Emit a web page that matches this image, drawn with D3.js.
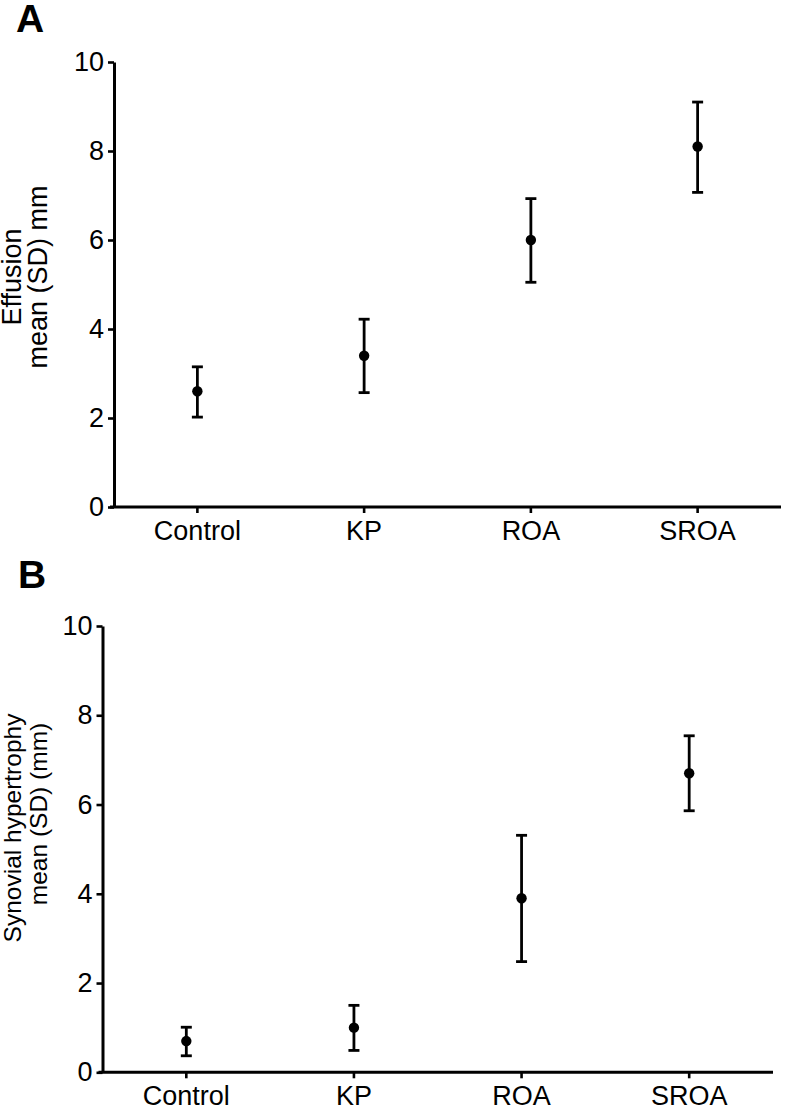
<!DOCTYPE html>
<html>
<head>
<meta charset="utf-8">
<script src="https://cdn.jsdelivr.net/npm/d3@7"></script>
<style>
  html, body { margin: 0; padding: 0; background: #fff; }
  svg { display: block; }
  text { font-family: "Liberation Sans", Arial, sans-serif; fill: #000; }
</style>
</head>
<body>
<svg id="chart" width="786" height="1109"></svg>
<script>
// ---- Data ----
const categories = ["Control", "KP", "ROA", "SROA"];
const yTicks = [0, 2, 4, 6, 8, 10];

const effusionMean = [2.6, 3.4, 6.0, 8.1];
const effusionLow  = [2.02, 2.57, 5.05, 7.07];
const effusionHigh = [3.15, 4.22, 6.93, 9.1];

const synovialMean = [0.7, 1.0, 3.9, 6.7];
const synovialLow  = [0.37, 0.49, 2.48, 5.86];
const synovialHigh = [1.01, 1.5, 5.31, 7.54];

const panelALabel = "A";
const panelBLabel = "B";
const effusionTitle = ["Effusion", "mean (SD) mm"];
const synovialTitle = ["Synovial hypertrophy", "mean (SD) (mm)"];

// ---- Drawing ----
const svg = d3.select("#chart");

function drawPanel(opt) {
  const g = svg.append("g");
  const x = d3.scaleBand().domain(categories).range([opt.left, opt.right]).padding(0);
  const y = d3.scaleLinear().domain([0, 10]).range([opt.bottom, opt.top]);

  // panel letter
  g.append("text")
    .attr("x", opt.letterX).attr("y", opt.letterY)
    .attr("font-size", 39).attr("font-weight", "bold")
    .text(opt.letter);

  // y axis
  const ya = g.append("g")
    .attr("transform", `translate(${opt.left},0)`)
    .call(d3.axisLeft(y).tickValues(yTicks).tickSize(6).tickSizeOuter(0).tickPadding(4));
  // x axis
  const xa = g.append("g")
    .attr("transform", `translate(0,${opt.bottom})`)
    .call(d3.axisBottom(x).tickSize(6).tickSizeOuter(0).tickPadding(8));

  [ya, xa].forEach(a => {
    a.selectAll("path.domain").attr("stroke", "#000").attr("stroke-width", 3);
    a.selectAll(".tick line").attr("stroke", "#000").attr("stroke-width", 2.6);
    a.selectAll(".tick text").attr("font-size", 27).attr("fill", "#000")
      .attr("font-family", '"Liberation Sans", Arial, sans-serif');
  });
  // x-axis domain extends slightly left of y axis
  xa.select("path.domain").attr("d", `M${opt.left - 4},0H${opt.right}`);

  // y-axis title lines
  opt.title.forEach((t, i) => {
    g.append("text")
      .attr("transform", `translate(${opt.titleX[i]},${opt.titleY[i]}) rotate(-90)`)
      .attr("text-anchor", "middle")
      .attr("font-size", opt.titleSize)
      .text(t);
  });

  const data = categories.map((c, i) => ({ c, m: opt.mean[i], lo: opt.low[i], hi: opt.high[i] }));
  const cx = d => x(d.c) + x.bandwidth() / 2;
  const cap = 5.5;

  const eb = g.append("g").selectAll("g").data(data).join("g");
  eb.append("line")
    .attr("x1", cx).attr("x2", cx)
    .attr("y1", d => y(d.lo)).attr("y2", d => y(d.hi))
    .attr("stroke", "#000").attr("stroke-width", 2.8);
  eb.append("line")
    .attr("x1", d => cx(d) - cap).attr("x2", d => cx(d) + cap)
    .attr("y1", d => y(d.hi)).attr("y2", d => y(d.hi))
    .attr("stroke", "#000").attr("stroke-width", 2.8);
  eb.append("line")
    .attr("x1", d => cx(d) - cap).attr("x2", d => cx(d) + cap)
    .attr("y1", d => y(d.lo)).attr("y2", d => y(d.lo))
    .attr("stroke", "#000").attr("stroke-width", 2.8);
  eb.append("circle")
    .attr("cx", cx).attr("cy", d => y(d.m)).attr("r", 5.2)
    .attr("fill", "#000");
}

drawPanel({
  letter: panelALabel, letterX: 16, letterY: 32,
  left: 114, right: 781, top: 62, bottom: 507,
  mean: effusionMean, low: effusionLow, high: effusionHigh,
  title: effusionTitle, titleX: [21, 47], titleY: [277, 277], titleSize: 27
});

drawPanel({
  letter: panelBLabel, letterX: 18, letterY: 588,
  left: 102.5, right: 773, top: 626, bottom: 1072.3,
  mean: synovialMean, low: synovialLow, high: synovialHigh,
  title: synovialTitle, titleX: [21, 47], titleY: [828, 814], titleSize: 24.5
});
</script>
</body>
</html>
